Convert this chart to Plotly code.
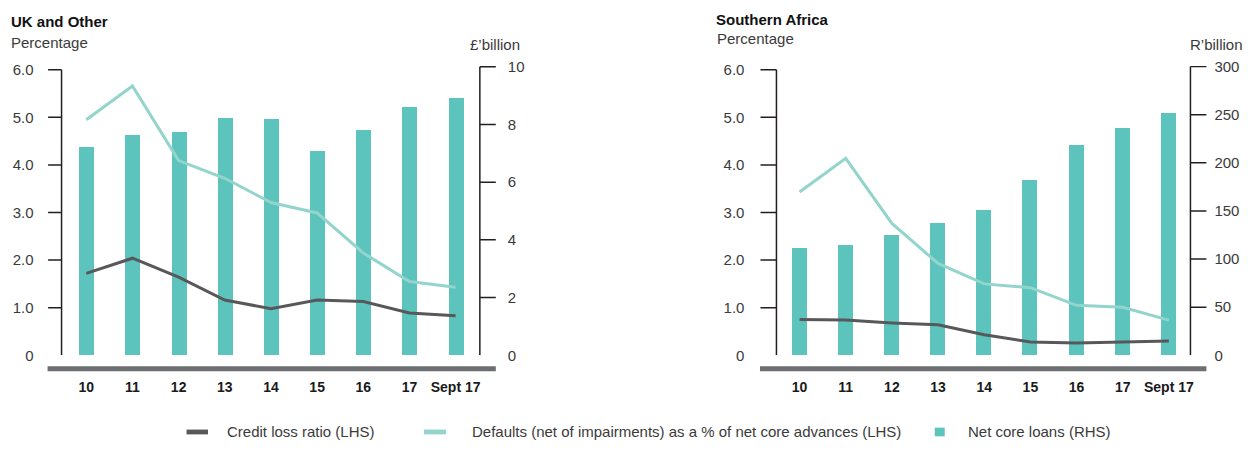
import plotly.graph_objects as go

# ---- data -------------------------------------------------------------
categories = ["10", "11", "12", "13", "14", "15", "16", "17", "Sept 17"]

uk_net_core_loans = [7.22, 7.63, 7.73, 8.23, 8.20, 7.07, 7.80, 8.60, 8.91]      # £'billion
uk_defaults = [4.95, 5.66, 4.09, 3.72, 3.21, 2.99, 2.15, 1.55, 1.43]            # %
uk_credit_loss = [1.72, 2.04, 1.64, 1.16, 0.98, 1.16, 1.13, 0.89, 0.83]         # %

sa_net_core_loans = [112, 115, 125, 138, 151, 182, 219, 236, 252]                # R'billion
sa_defaults = [3.43, 4.14, 2.77, 1.93, 1.50, 1.42, 1.05, 1.01, 0.74]            # %
sa_credit_loss = [0.75, 0.74, 0.68, 0.64, 0.43, 0.28, 0.26, 0.28, 0.30]         # %

pct_ticks = [0, 1, 2, 3, 4, 5, 6]
pct_ticktext = ["0", "1.0", "2.0", "3.0", "4.0", "5.0", "6.0"]
uk_rhs_ticks = [0, 2, 4, 6, 8, 10]
sa_rhs_ticks = [0, 50, 100, 150, 200, 250, 300]

# ---- styling ----------------------------------------------------------
W, H = 1255, 453
FONT = "Liberation Sans"
TEAL = "#5cc4bd"
LIGHT_TEAL = "#93d4cd"
DARK = "#58585a"
BASE_GREY = "#6d6e71"
AXIS = "#231f20"
TXT = "#3a3a3a"


def px(x):
    return x / W


def py(y):
    return 1 - y / H


x_idx = list(range(len(categories)))

fig = go.Figure()

# each panel: x axis, bar (RHS) axis, line (LHS) axis, pixel edges, series, RHS ticks/range, x range
panels = [
    ("x", "y", "y2", 61.7, 481.0, uk_net_core_loans, uk_defaults, uk_credit_loss,
     uk_rhs_ticks, 10.03, [-0.536, 8.525]),
    ("x2", "y3", "y4", 778.3, 1193.3, sa_net_core_loans, sa_defaults, sa_credit_loss,
     sa_rhs_ticks, 300.7, [-0.501, 8.467]),
]

y_dom = [py(360), py(60)]
pct_max = 6 * 300 / 296

shapes = []
annotations = []

for i, (xa, yb, yl, left, right, loans, dflt, closs, rticks, rmax, xr) in enumerate(panels):
    fig.add_trace(go.Bar(x=x_idx, y=loans, width=0.324, marker=dict(color=TEAL, line=dict(width=0)),
                         xaxis=xa, yaxis=yb, showlegend=False))
    fig.add_trace(go.Scatter(x=x_idx, y=dflt, mode="lines", line=dict(color=LIGHT_TEAL, width=3),
                             xaxis=xa, yaxis=yl, showlegend=False))
    fig.add_trace(go.Scatter(x=x_idx, y=closs, mode="lines", line=dict(color=DARK, width=3),
                             xaxis=xa, yaxis=yl, showlegend=False))

    width = right - left
    xd = f"{xa} domain"
    # axis spines
    shapes.append(dict(type="line", xref=xd, yref=yl, x0=0, x1=0, y0=0, y1=6,
                       line=dict(color=AXIS, width=1.5)))
    shapes.append(dict(type="line", xref=xd, yref=yb, x0=1, x1=1, y0=0, y1=rticks[-1],
                       line=dict(color=AXIS, width=1.5)))
    # tick marks (none at zero)
    ltl = 13.5 if i == 0 else 16
    for v in pct_ticks[1:]:
        shapes.append(dict(type="line", xref=xd, yref=yl, x0=-ltl / width, x1=0, y0=v, y1=v,
                           line=dict(color=AXIS, width=1.5)))
    for v in rticks[1:]:
        shapes.append(dict(type="line", xref=xd, yref=yb, x0=1, x1=1 + 16 / width, y0=v, y1=v,
                           line=dict(color=AXIS, width=1.5)))
    # heavy base rule under the plot
    shapes.append(dict(type="line", xref="paper", yref="paper",
                       x0=px(left - (ltl + 0.5)), x1=px(right + 16), y0=py(374), y1=py(374),
                       line=dict(color=BASE_GREY, width=5)))

    n = "" if i == 0 else "2"
    fig.update_layout(**{
        f"xaxis{n}": dict(domain=[px(left), px(right)], range=xr, anchor=yb,
                          tickmode="array", tickvals=x_idx, ticktext=categories,
                          ticks="", showline=False, showgrid=False, zeroline=False,
                          ticklabelstandoff=22,
                          tickfont=dict(family=FONT, size=14, color="#1a1a1a", weight="bold")),
    })
    ybn = "" if i == 0 else "3"
    yln = "2" if i == 0 else "4"
    fig.update_layout(**{
        f"yaxis{ybn}": dict(domain=y_dom, range=[0, rmax], anchor=xa, side="right",
                            tickmode="array", tickvals=rticks, ticks="", showline=False,
                            showgrid=False, zeroline=False,
                            ticklabelstandoff=27 if i == 0 else 23,
                            tickfont=dict(family=FONT, size=15, color=TXT)),
        f"yaxis{yln}": dict(range=[0, pct_max], anchor=xa, overlaying=yb, side="left",
                            tickmode="array", tickvals=pct_ticks, ticktext=pct_ticktext,
                            ticks="", showline=False, showgrid=False, zeroline=False,
                            ticklabelstandoff=27 if i == 0 else 31,
                            tickfont=dict(family=FONT, size=15, color=TXT)),
    })


def label(text, x, y, size=15, bold=False, color=TXT):
    annotations.append(dict(text=text, x=px(x), y=py(y), xref="paper", yref="paper",
                            xanchor="left", yanchor="middle", showarrow=False,
                            font=dict(family=FONT, size=size, color=color,
                                      weight="bold" if bold else "normal")))


# panel titles and axis units
label("UK and Other", 9, 14, bold=True, color="#111111")
label("Percentage", 9, 36)
label("£’billion", 469, 38)
label("Southern Africa", 716, 12, bold=True, color="#111111")
label("Percentage", 717, 32)
label("R’billion", 1191, 38)

# legend
legend_items = [
    (187, 208.5, 437, 442, DARK, 226, "Credit loss ratio (LHS)"),
    (425, 447, 437, 442, LIGHT_TEAL, 471, "Defaults (net of impairments) as a % of net core advances (LHS)"),
    (937, 947, 435, 444, TEAL, 968, "Net core loans (RHS)"),
]
for x0, x1, y0, y1, col, tx, txt in legend_items:
    shapes.append(dict(type="rect", xref="paper", yref="paper", x0=px(x0), x1=px(x1),
                       y0=py(y1), y1=py(y0), fillcolor=col, line=dict(width=0)))
    label(txt, tx, 438.7)

fig.update_layout(
    width=W, height=H, autosize=False,
    margin=dict(l=0, r=0, t=0, b=0),
    paper_bgcolor="white", plot_bgcolor="white",
    shapes=shapes, annotations=annotations,
    showlegend=False, bargap=0,
)

fig.write_html("out.html")
